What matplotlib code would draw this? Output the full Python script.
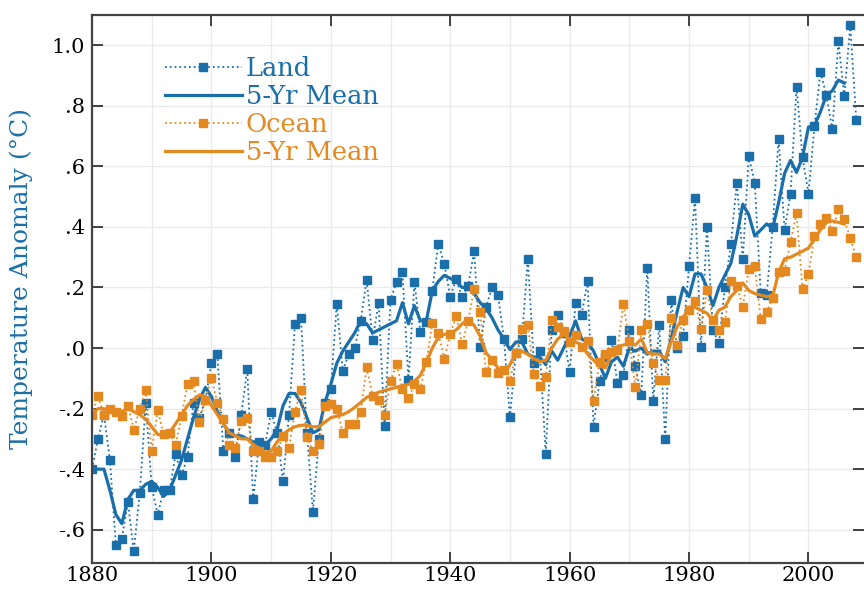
import numpy as np
import matplotlib
matplotlib.use('Agg')
import matplotlib.pyplot as plt

# annual anomalies, 1880-2008
years = np.arange(1880, 2009)
land = [-0.40, -0.30, -0.22, -0.37, -0.65, -0.63, -0.51, -0.67, -0.48, -0.18,
        -0.46, -0.55, -0.47, -0.47, -0.35, -0.42, -0.36, -0.18, -0.23, -0.17,
        -0.05, -0.02, -0.34, -0.28, -0.36, -0.22, -0.07, -0.50, -0.31, -0.32,
        -0.21, -0.28, -0.44, -0.22, 0.08, 0.10, -0.28, -0.54, -0.30, -0.18,
        -0.135, 0.147, -0.075, -0.02, 0.00, 0.09, 0.225, 0.027, 0.15, -0.256,
        0.16, 0.217, 0.25, -0.107, 0.217, 0.053, 0.086, 0.19, 0.345, 0.278,
        0.17, 0.228, 0.167, 0.205, 0.32, 0.003, 0.136, 0.20, 0.175, 0.031,
        -0.228, -0.016, 0.031, 0.295, -0.05, -0.01, -0.35, 0.06, 0.11, 0.05,
        -0.08, 0.15, 0.11, 0.22, -0.26, -0.11, -0.03, 0.025, -0.115, -0.09,
        0.06, -0.06, -0.155, 0.266, -0.176, 0.075, -0.30, 0.16, 0.0, 0.04,
        0.272, 0.495, 0.002, 0.40, 0.059, 0.015, 0.203, 0.342, 0.546, 0.293,
        0.633, 0.545, 0.183, 0.176, 0.40, 0.69, 0.39, 0.51, 0.863, 0.63,
        0.51, 0.733, 0.912, 0.835, 0.722, 1.013, 0.832, 1.066, 0.753]
ocean = [-0.22, -0.16, -0.22, -0.20, -0.21, -0.225, -0.19, -0.27, -0.20, -0.14,
         -0.34, -0.205, -0.285, -0.28, -0.32, -0.225, -0.12, -0.11, -0.245, -0.17,
         -0.10, -0.18, -0.235, -0.32, -0.33, -0.24, -0.23, -0.34, -0.34, -0.36,
         -0.36, -0.34, -0.29, -0.33, -0.21, -0.137, -0.295, -0.34, -0.316, -0.19,
         -0.185, -0.20, -0.28, -0.25, -0.25, -0.21, -0.064, -0.157, -0.17, -0.22,
         -0.11, -0.053, -0.135, -0.166, -0.12, -0.135, -0.047, 0.083, 0.05, -0.036,
         0.045, 0.105, 0.012, 0.09, 0.195, 0.12, -0.08, -0.038, -0.082, -0.071,
         -0.11, -0.016, 0.062, 0.075, -0.085, -0.126, -0.097, 0.093, 0.071, 0.055,
         0.02, 0.044, 0.005, 0.024, -0.174, -0.046, -0.02, -0.013, -0.005, 0.145,
         0.024, -0.13, 0.059, 0.081, -0.05, -0.105, -0.105, 0.10, 0.01, 0.094,
         0.126, 0.155, 0.062, 0.193, 0.092, 0.059, 0.086, 0.222, 0.206, 0.137,
         0.26, 0.27, 0.096, 0.118, 0.165, 0.25, 0.256, 0.35, 0.445, 0.195,
         0.244, 0.369, 0.41, 0.43, 0.385, 0.458, 0.425, 0.363, 0.30]

# 5-yr means as drawn, 1880-2006
mean_years = np.arange(1880, 2007)
land_mean = [-0.40, -0.40, -0.40, -0.47, -0.55, -0.58, -0.50, -0.47, -0.47, -0.45,
             -0.44, -0.46, -0.49, -0.47, -0.42, -0.37, -0.30, -0.23, -0.17, -0.13,
             -0.16, -0.21, -0.25, -0.28, -0.29, -0.29, -0.30, -0.31, -0.31, -0.32,
             -0.30, -0.27, -0.19, -0.15, -0.15, -0.18, -0.23, -0.28, -0.27, -0.18,
             -0.12, -0.05, -0.01, 0.02, 0.05, 0.09, 0.08, 0.05, 0.06, 0.07,
             0.08, 0.09, 0.15, 0.08, 0.14, 0.09, 0.09, 0.19, 0.22, 0.24,
             0.23, 0.22, 0.20, 0.20, 0.18, 0.15, 0.13, 0.10, 0.06, 0.03,
             -0.005, 0.02, 0.02, -0.02, -0.03, -0.03, -0.055, -0.01, -0.04, 0.0,
             0.04, 0.09, 0.03, 0.02, -0.01, -0.055, -0.10, -0.045, -0.03, -0.06,
             0.0, -0.01, 0.0, -0.02, -0.01, -0.01, -0.045, 0.03, 0.12, 0.20,
             0.17, 0.245, 0.245, 0.20, 0.14, 0.20, 0.24, 0.28, 0.37, 0.475,
             0.44, 0.37, 0.39, 0.41, 0.395, 0.48, 0.577, 0.62, 0.58, 0.63,
             0.73, 0.735, 0.78, 0.835, 0.85, 0.885, 0.875]
ocean_mean = [-0.22, -0.20, -0.20, -0.21, -0.22, -0.21, -0.20, -0.21, -0.22, -0.235,
              -0.26, -0.285, -0.29, -0.28, -0.25, -0.22, -0.19, -0.17, -0.155, -0.16,
              -0.19, -0.22, -0.25, -0.28, -0.29, -0.30, -0.30, -0.32, -0.33, -0.345,
              -0.34, -0.31, -0.285, -0.27, -0.26, -0.255, -0.255, -0.26, -0.26, -0.245,
              -0.23, -0.225, -0.22, -0.21, -0.196, -0.18, -0.163, -0.155, -0.146, -0.14,
              -0.135, -0.13, -0.124, -0.12, -0.11, -0.09, -0.047, 0.0, 0.035, 0.045,
              0.048, 0.06, 0.08, 0.095, 0.075, 0.04, -0.016, -0.038, -0.066, -0.082,
              -0.055, -0.016, -0.01, -0.021, -0.035, -0.045, -0.04, 0.0, 0.03, 0.045,
              0.03, 0.02, 0.01, -0.02, -0.04, -0.06, -0.065, -0.02, 0.005, 0.01,
              0.015, 0.01, 0.03, -0.015, -0.02, -0.02, -0.035, 0.02, 0.07, 0.10,
              0.135, 0.135, 0.125, 0.115, 0.09, 0.125, 0.135, 0.17, 0.19, 0.215,
              0.19, 0.18, 0.175, 0.17, 0.17, 0.25, 0.295, 0.30, 0.31, 0.32,
              0.33, 0.36, 0.39, 0.415, 0.42, 0.415, 0.41]

y_ticks = [-0.6, -0.4, -0.2, 0.0, 0.2, 0.4, 0.6, 0.8, 1.0]
y_labels = ['-.6', '-.4', '-.2', '.0', '.2', '.4', '.6', '.8', '1.0']
x_ticks = [1880, 1900, 1920, 1940, 1960, 1980, 2000]

blue = '#1a6fab'
orange = '#e4891f'

plt.rcParams['font.family'] = 'DejaVu Serif'

fig = plt.figure(figsize=(8.64, 5.89), dpi=100)
ax = fig.add_axes([92 / 864, 1 - 563 / 589, 772 / 864, 548 / 589])

ax.plot(years, land, ':', color=blue, lw=1.3, marker='s', ms=5.2, label='Land')
ax.plot(mean_years, land_mean, '-', color=blue, lw=2.3, label='5-Yr Mean')
ax.plot(years, ocean, ':', color=orange, lw=1.3, marker='s', ms=5.2, label='Ocean')
ax.plot(mean_years, ocean_mean, '-', color=orange, lw=2.3, label='5-Yr Mean')

ax.set_xlim(1880, 2009.3)
ax.set_ylim(-0.71, 1.10)
ax.set_xticks(x_ticks)
ax.set_yticks(y_ticks)
ax.set_yticklabels(y_labels)
ax.set_xticks(np.arange(1890, 2010, 20), minor=True)
ax.grid(True, which='both', color='#ebebeb', lw=1.0)
ax.set_axisbelow(True)
ax.tick_params(which='major', direction='in', length=8, width=1.3, color='#333333',
               labelsize=15, top=True, right=True, pad=5)
ax.tick_params(axis='x', which='major', pad=2)
ax.tick_params(which='minor', length=0)
for side in ['left', 'top', 'bottom']:
    ax.spines[side].set_color('#444444')
    ax.spines[side].set_linewidth(1.6)
ax.spines['right'].set_visible(False)

ax.set_ylabel('Temperature Anomaly (°C)', color=blue, fontsize=18)
ax.yaxis.set_label_coords(-0.077, 0.52)

leg = ax.legend(loc='upper left', bbox_to_anchor=(0.094, 0.925), frameon=False,
                fontsize=18.5, numpoints=1, handlelength=3.0, handletextpad=0.15,
                labelspacing=0.12, borderpad=0, borderaxespad=0)
for txt, c in zip(leg.get_texts(), [blue, blue, orange, orange]):
    txt.set_color(c)

fig.savefig('out.png', dpi=100)
